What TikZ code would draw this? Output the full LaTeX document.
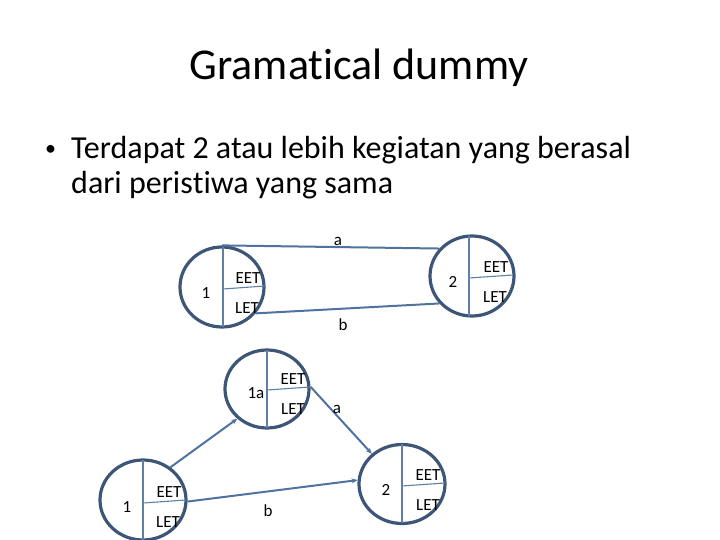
\documentclass[tikz,border=0pt]{standalone}
\usepackage{fontspec}
\setmainfont{Carlito}[Ligatures={NoCommon,NoRequired,NoContextual}]
\usetikzlibrary{shapes.geometric,arrows.meta}
\definecolor{ring}{HTML}{3D5678}
\definecolor{inner}{HTML}{5F7FA6}
\definecolor{conn}{HTML}{4F72A0}
\tikzset{
  evt/.style={ellipse,draw=ring,line width=3.2pt,minimum width=84pt,minimum height=80pt,inner sep=0pt},
  div/.style={draw=inner,line width=1.1pt},
  lbl/.style={font=\fontsize{17}{19}\selectfont,inner sep=0pt},
  con/.style={draw=conn,line width=2pt},
  arr/.style={con,-{Stealth[length=6pt,width=5pt]}},
  body/.style={font=\fontsize{32}{38}\selectfont,inner sep=0pt,anchor=base west}
}
\begin{document}
\begin{tikzpicture}[x=1pt,y=-1pt]
\useasboundingbox (0,0) rectangle (720,540);
% title
\node[font=\fontsize{44}{52}\selectfont,inner sep=0pt,anchor=base] (title) at (359,80) {Gramat\kern0pt ical dummy};
\node[body,font=\fontsize{22}{26}\selectfont] (bul) at (45,156) {•};
\node[body] (l1) at (71,159) {Terdapat 2 atau lebih kegiatan yang berasal};
\node[body] (l2) at (71,194) {dari peris\kern0pt t\kern0pt iwa yang sama};

% top diagram
\node[evt] (ta) at (222,287) {};
\node[evt] (tb) at (472,276) {};
\draw[div] (223,247) -- (223,327);
\draw[div] (223,289) -- (265,286);
\draw[div] (469,236) -- (469,316);
\draw[div] (469,278) -- (513,275);
\draw[con] (ta.north) -- (tb.140);
\draw[con] (ta.-38) -- (tb.-140);
\node[lbl] (tla) at (338,241) {a};
\node[lbl] (tlb) at (343,325) {b};
\node[lbl] (t1) at (206,293) {1};
\node[lbl] (t1e) at (248,278) {EET};
\node[lbl] (t1l) at (247,308) {LET};
\node[lbl] (t2) at (453,282) {2};
\node[lbl] (t2e) at (496,267) {EET};
\node[lbl] (t2l) at (495,297) {LET};

% bottom diagram
\node[evt,minimum height=78pt] (ba) at (267,389) {};
\node[evt,minimum width=86pt] (b1) at (143,500) {};
\node[evt,minimum width=86pt,minimum height=79pt] (b2) at (402,484) {};
\draw[div] (267,350) -- (267,428);
\draw[div] (267,390) -- (310,387);
\draw[div] (143,460) -- (143,540);
\draw[div] (143,503) -- (186,500);
\draw[div] (402,444) -- (402,523);
\draw[div] (402,486) -- (445,483);
\draw[arr] (b1.50) -- (ba.-135);
\draw[arr] (ba.3) -- (b2.135);
\draw[arr] (b1.-2) -- (b2.175);
\node[lbl] (bla) at (337,409) {a};
\node[lbl] (blb) at (268,511) {b};
\node[lbl] (b1a) at (256,393) {1a};
\node[lbl] (bae) at (293,379) {EET};
\node[lbl] (bal) at (293,409) {LET};
\node[lbl] (b1t) at (127,507) {1};
\node[lbl] (b1e) at (169,492) {EET};
\node[lbl] (b1l) at (168,522) {LET};
\node[lbl] (b2t) at (386,490) {2};
\node[lbl] (b2e) at (428,475) {EET};
\node[lbl] (b2l) at (428,505) {LET};
\end{tikzpicture}
\end{document}
